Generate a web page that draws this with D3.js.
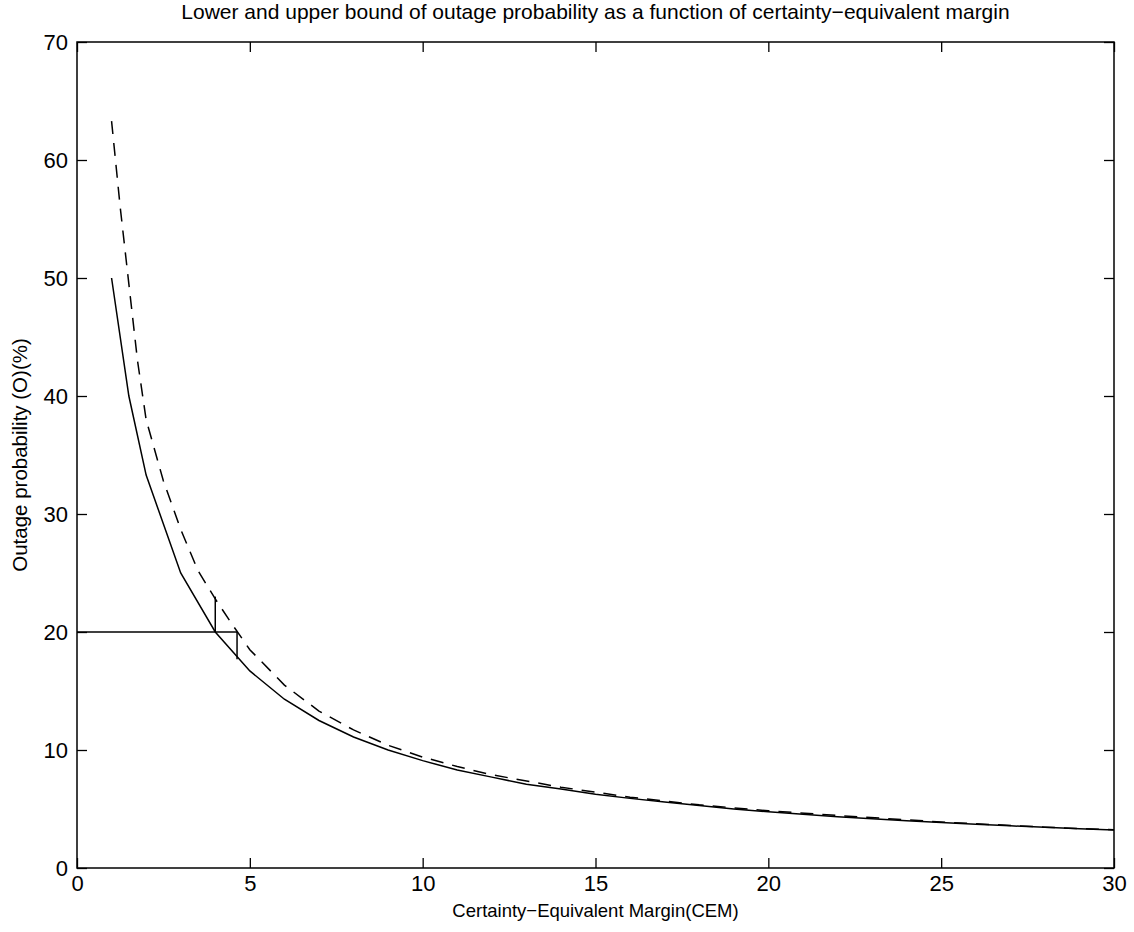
<!DOCTYPE html>
<html>
<head>
<meta charset="utf-8">
<script src="https://cdn.jsdelivr.net/npm/d3@7"></script>
<style>
  body { margin: 0; background: #fff; }
  svg { font-family: "Liberation Sans", Arial, sans-serif; }
</style>
</head>
<body>
<div id="chart"></div>
<script>
// lower bound (solid)
const lowerX = [1, 1.5, 2, 3, 4, 5, 6, 7, 8, 9, 10, 11, 12, 13, 14, 15, 16, 17, 18, 19, 20,
                21, 22, 23, 24, 25, 26, 27, 28, 29, 30];
const lowerY = [50, 40, 33.3, 25, 20, 16.7, 14.3, 12.5, 11.1, 10, 9.1, 8.3, 7.7, 7.1, 6.7, 6.25,
                5.9, 5.6, 5.3, 5.0, 4.76, 4.55, 4.35, 4.17, 4.0, 3.85, 3.7, 3.57, 3.45, 3.33, 3.23];
// upper bound (dashed)
const upperX = [1, 1.25, 1.5, 1.75, 2, 2.5, 3, 3.5, 4, 4.5, 5, 6, 7, 8, 9, 10, 11, 12, 14, 16,
                18, 20, 22, 25, 28, 30];
const upperY = [63.3, 56, 49.5, 43, 38, 32.8, 28.7, 25.2, 22.8, 20.6, 18.5, 15.5, 13.3, 11.7, 10.4,
                9.4, 8.6, 7.9, 6.85, 6.0, 5.35, 4.85, 4.45, 3.9, 3.46, 3.24];
// the 20% read-off marker
const markerLevel = 20;
const markerLowerX = 4;
const markerUpperX = 4.63;
const markerUpperTop = 23;
const markerLowerBottom = 17.7;

const xTicks = [0, 5, 10, 15, 20, 25, 30];
const yTicks = [0, 10, 20, 30, 40, 50, 60, 70];

const width = 1134, height = 932;
const margin = {top: 42, right: 20, bottom: 64, left: 77};
const plotW = width - margin.left - margin.right;
const plotH = height - margin.top - margin.bottom;

const svg = d3.select("#chart").append("svg")
    .attr("width", width)
    .attr("height", height);

const x = d3.scaleLinear([0, 30], [margin.left, margin.left + plotW]);
const y = d3.scaleLinear([0, 70], [margin.top + plotH, margin.top]);

// ticks point inward, on all four sides
const tickLen = 10;
const axisStyle = g => {
    g.select(".domain").remove();
    g.selectAll(".tick line").attr("stroke", "#000").attr("stroke-width", 1.3);
    g.selectAll(".tick text").attr("fill", "#000").attr("font-size", 22);
};
svg.append("g")
    .attr("transform", `translate(0,${y(0)})`)
    .call(d3.axisBottom(x).tickValues(xTicks).tickSize(-tickLen).tickPadding(7))
    .call(axisStyle);
svg.append("g")
    .attr("transform", `translate(0,${y(70)})`)
    .call(d3.axisTop(x).tickValues(xTicks).tickSize(-tickLen).tickFormat(""))
    .call(axisStyle);
svg.append("g")
    .attr("transform", `translate(${x(0)},0)`)
    .call(d3.axisLeft(y).tickValues(yTicks).tickSize(-tickLen).tickPadding(9))
    .call(axisStyle);
svg.append("g")
    .attr("transform", `translate(${x(30)},0)`)
    .call(d3.axisRight(y).tickValues(yTicks).tickSize(-tickLen).tickFormat(""))
    .call(axisStyle);

// frame
svg.append("rect")
    .attr("x", x(0)).attr("y", y(70))
    .attr("width", x(30) - x(0)).attr("height", y(0) - y(70))
    .attr("fill", "none").attr("stroke", "#000").attr("stroke-width", 1.5);

const line = d3.line().x(d => x(d[0])).y(d => y(d[1]));

svg.append("path")
    .datum(lowerX.map((v, i) => [v, lowerY[i]]))
    .attr("d", line)
    .attr("fill", "none").attr("stroke", "#000").attr("stroke-width", 1.5);

svg.append("path")
    .datum(upperX.map((v, i) => [v, upperY[i]]))
    .attr("d", line)
    .attr("fill", "none").attr("stroke", "#000").attr("stroke-width", 1.5)
    .attr("stroke-dasharray", "13,9");

// marker lines at 20%
const marks = [
    [[0, markerLevel], [markerUpperX, markerLevel]],
    [[markerLowerX, markerLevel], [markerLowerX, markerUpperTop]],
    [[markerUpperX, markerLevel], [markerUpperX, markerLowerBottom]]
];
svg.append("g").selectAll("path")
    .data(marks)
    .join("path")
    .attr("d", line)
    .attr("fill", "none").attr("stroke", "#000").attr("stroke-width", 1.5);

// texts
svg.append("text")
    .attr("x", (x(0) + x(30)) / 2).attr("y", 19)
    .attr("text-anchor", "middle").attr("font-size", 21)
    .text("Lower and upper bound of outage probability as a function of certainty\u2212equivalent margin");
svg.append("text")
    .attr("x", (x(0) + x(30)) / 2).attr("y", 917)
    .attr("text-anchor", "middle").attr("font-size", 18.5)
    .text("Certainty\u2212Equivalent Margin(CEM)");
svg.append("text")
    .attr("transform", `translate(27,${(y(0) + y(70)) / 2}) rotate(-90)`)
    .attr("text-anchor", "middle").attr("font-size", 20.5)
    .text("Outage probability (O)(%)");
</script>
</body>
</html>
